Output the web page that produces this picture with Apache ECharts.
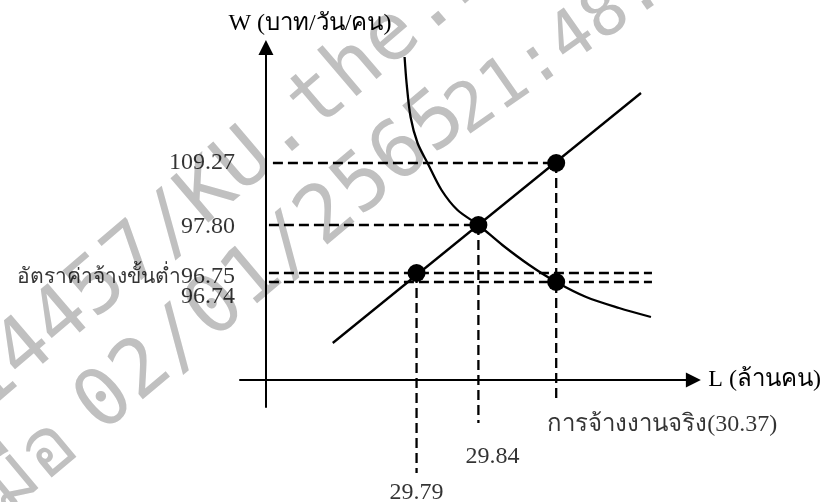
<!DOCTYPE html>
<html>
<head>
<meta charset="utf-8">
<script src="https://cdn.jsdelivr.net/npm/echarts@6/dist/echarts.min.js"></script>
<style>
  html, body { margin: 0; padding: 0; background: #fff; }
  #main { width: 824px; height: 502px; }
</style>
</head>
<body>
<div id="main"></div>
<script>
// schematic diagram units (not to scale, like the original sketch)
const wLabels = ['109.27', '97.80', '96.75', '96.74'];
const wNote = ['', '', 'อัตราค่าจ้างขั้นต่ำ', ''];
const wLevels = [217, 155, 107, 98];
const wStart = [7, 3, 3, 3];
const wEnd = [291, 213, 387, 387];

const lLabels = ['29.79', '29.84', 'การจ้างงานจริง(30.37)'];
const lLevels = [151, 213, 291];
const lTop = [107, 155, 217];
const lBottom = [-93, -43, -23];

const supplyX = [67, 376];
const supplyY = [37, 287];

const demandX = [139, 141, 145, 152, 162, 176, 192, 213, 237, 264, 291, 321, 354, 386];
const demandY = [323, 297, 263, 237, 217, 190, 170, 155, 135, 115, 98, 83, 72, 63];

const dotX = [151, 213, 291, 291];
const dotY = [107, 155, 217, 98];

const FONT = "'Liberation Serif', 'DejaVu Serif', serif";
const dashStyle = { color: '#000', width: 2.3, type: [10, 5] };

const series = [];

wLevels.forEach((y, i) => {
  series.push({
    type: 'line',
    data: [[wStart[i], y], [wEnd[i], y]],
    showSymbol: false,
    lineStyle: dashStyle,
    silent: true,
    z: 1
  });
});

lLevels.forEach((x, i) => {
  series.push({
    type: 'line',
    data: [[x, lTop[i]], [x, lBottom[i]]],
    showSymbol: false,
    lineStyle: dashStyle,
    clip: false,
    silent: true,
    z: 1
  });
});

series.push({
  type: 'line',
  data: supplyX.map((x, i) => [x, supplyY[i]]),
  showSymbol: false,
  lineStyle: { color: '#000', width: 2.3 },
  z: 2
});

series.push({
  type: 'line',
  data: demandX.map((x, i) => [x, demandY[i]]),
  smooth: 0.3,
  showSymbol: false,
  lineStyle: { color: '#000', width: 2.3 },
  z: 2
});

series.push({
  type: 'scatter',
  data: dotX.map((x, i) => [x, dotY[i]]),
  symbolSize: 18,
  itemStyle: { color: '#000', opacity: 1 },
  z: 3
});

// W value labels, left of the vertical axis
const wOffsets = [[0, 0], [0, 2], [0, 4], [0, 15]];
series.push({
  type: 'scatter',
  data: wLevels.map((y, i) => ({
    value: [0, y],
    label: {
      offset: wOffsets[i],
      formatter: (wNote[i] ? '{th|' + wNote[i] + '}' : '') + wLabels[i]
    }
  })),
  symbolSize: 0,
  label: {
    show: true,
    position: 'left',
    distance: 31,
    color: '#000',
    fontFamily: FONT,
    fontSize: 24,
    rich: {
      th: { fontFamily: FONT, fontSize: 21, color: '#000' }
    }
  },
  silent: true,
  z: 4
});

// L value labels, under the vertical dashed lines
const lLabelCfg = [
  { distance: 8, offset: [0, 0], align: 'center' },
  { distance: 22, offset: [14, 0], align: 'center' },
  { distance: 10, offset: [-9, 0], align: 'left' }
];
series.push({
  type: 'scatter',
  data: lLevels.map((x, i) => ({
    value: [x, lBottom[i]],
    label: Object.assign({ formatter: lLabels[i] }, lLabelCfg[i])
  })),
  symbolSize: 0,
  clip: false,
  label: {
    show: true,
    position: 'bottom',
    color: '#000',
    fontFamily: FONT,
    fontSize: 24
  },
  silent: true,
  z: 4
});

// grey watermark stamped over the scanned page
const deg = Math.PI / 180;
const markStyle = { fill: '#c0c0c0', fontFamily: "'DejaVu Sans Mono', monospace", fontSize: 80, align: 'left', verticalAlign: 'middle' };
const mark = (text, x, y, angle, extra) => ({
  type: 'text', x: x, y: y, rotation: angle * deg, z: -10, silent: true,
  style: Object.assign({ text: text }, markStyle, extra || {})
});
const watermark = [
  mark('14457/KU.the.20', -29, 398, 40.5),
  mark('02/01/2565', 88, 418, 40),
  mark('เมื่อ', 68, 436, 40, { align: 'right' }),
  mark('21:48.', 456, 122, 35, { fontSize: 68 })
];

const chart = echarts.init(document.getElementById('main'), null, { renderer: 'canvas' });
chart.setOption({
  backgroundColor: '#fff',
  animation: false,
  graphic: watermark,
  grid: { left: 240, right: 129.5, top: 47.5, bottom: 95 },
  xAxis: {
    type: 'value',
    min: -26,
    max: 428.5,
    name: 'L (ล้านคน)',
    nameLocation: 'end',
    nameGap: 15,
    nameTextStyle: { color: '#000', fontFamily: FONT, fontSize: 24 },
    axisLine: {
      onZero: true,
      symbol: ['none', 'triangle'],
      symbolSize: [15, 15],
      lineStyle: { color: '#000', width: 2 }
    },
    axisTick: { show: false },
    axisLabel: { show: false },
    splitLine: { show: false }
  },
  yAxis: {
    type: 'value',
    min: -27,
    max: 332.5,
    name: 'W (บาท/วัน/คน)',
    nameLocation: 'end',
    nameGap: 12,
    nameTextStyle: { color: '#000', fontFamily: FONT, fontSize: 24, padding: [0, 0, 0, 88] },
    axisLine: {
      onZero: true,
      symbol: ['none', 'triangle'],
      symbolSize: [15, 15],
      lineStyle: { color: '#000', width: 2 }
    },
    axisTick: { show: false },
    axisLabel: { show: false },
    splitLine: { show: false }
  },
  series: series
});
</script>
</body>
</html>
